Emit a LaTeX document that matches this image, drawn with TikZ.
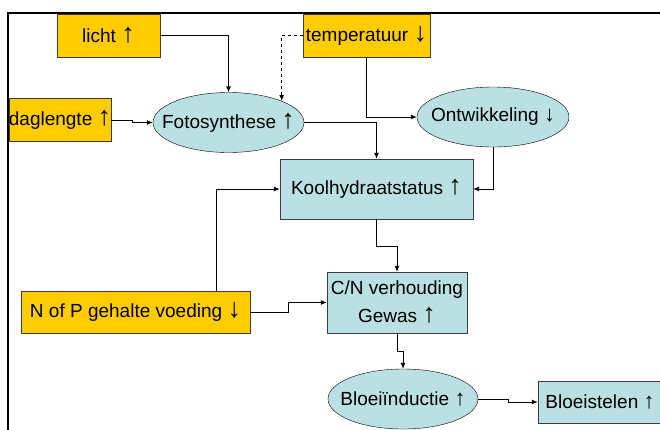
\documentclass[tikz,border=0pt]{standalone}
\usepackage{fontspec}
\setmainfont{Liberation Sans}
\usetikzlibrary{arrows.meta}
\usetikzlibrary{shapes.geometric}
\definecolor{mygeel}{RGB}{255,204,0}
\definecolor{myblauw}{RGB}{187,224,227}
\definecolor{myrand}{RGB}{60,60,60}
\newcommand{\grootop}{{\fontsize{27}{27}\selectfont ↑}}
\newcommand{\grootneer}{{\fontsize{27}{27}\selectfont ↓}}
\newcommand{\kleinop}{{\fontsize{22}{22}\selectfont ↑}}
\newcommand{\kleinneer}{{\fontsize{22}{22}\selectfont ↓}}

\begin{document}
\begin{tikzpicture}[x=1pt,y=-1pt,
  geel/.style={draw=myrand,fill=mygeel,inner sep=0pt,minimum height=43pt},
  blauw/.style={draw=myrand,fill=myblauw,inner sep=0pt,align=center},
  ovaal/.style={ellipse,draw=black,fill=myblauw,inner sep=0pt,minimum height=60pt},
  pijl/.style={-{Latex[length=6pt,width=5pt]},line width=0.9pt},
  font=\fontsize{19}{28}\selectfont]
\useasboundingbox (0,0) rectangle (660,429);
%frame
\draw[line width=1.3pt] (8,431) -- (8,13) -- (662,13);

%factoren
\node[geel,minimum width=103pt] (licht) at (108.5,35.5) {licht \grootop};
\node[geel,minimum width=127pt] (temp) at (366.5,35.5) {temperatuur \grootneer};
\node[geel,minimum width=102pt] (dag) at (60,120) {daglengte \grootop};
\node[geel,minimum width=229pt,minimum height=42pt] (voeding) at (135.5,312) {N of P gehalte voeding \grootneer};

%processen
\node[ovaal,minimum width=151pt] (foto) at (228.5,122.5) {\makebox[0pt]{Fotosynthese \grootop}};
\node[ovaal,minimum width=152pt] (ontw) at (493,117) {\makebox[0pt]{Ontwikkeling \kleinneer}};
\node[blauw,minimum width=193pt,minimum height=60pt] (kool) at (376.5,189) {Koolhydraatstatus \grootop};
\node[blauw,minimum width=140pt,minimum height=61pt] (cn) at (397,302.5) {C/N verhouding\\Gewas \grootop};
\node[ovaal,minimum width=150pt] (bloei) at (403,399) {\makebox[0pt]{Bloeiïnductie \kleinop}};
\node[blauw,minimum width=124pt,minimum height=42pt] (stelen) at (600,402) {Bloeistelen \kleinop};

%pijlen
\draw[pijl] (licht.east) -| (foto.north);
\draw[pijl,dashed] (temp.west) -| (foto.22);
\draw[pijl] (temp.south) |- (ontw.west);
\draw[pijl] (dag.east) -- ++(21,0) |- (foto.west);
\draw[pijl] (foto.east) -| (kool.north);
\draw[pijl] (ontw.south) |- (kool.east);
\draw[pijl] ([xshift=81pt]voeding.north) |- (kool.west);
\draw[pijl] (voeding.east) -- ++(38,0) |- (cn.west);
\draw[pijl] (kool.south) -- ++(0,27) -| (cn.north);
\draw[pijl] (cn.south) -- ++(0,18) -| (bloei.north);
\draw[pijl] (bloei.east) -- ++(30,0) |- (stelen.west);
\end{tikzpicture}
\end{document}
